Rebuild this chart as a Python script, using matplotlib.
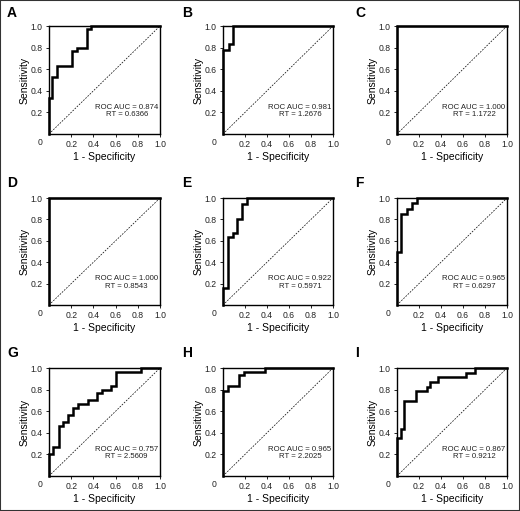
import matplotlib
matplotlib.use("Agg")
import matplotlib.pyplot as plt
from matplotlib.patches import Rectangle

plt.rcParams['font.family'] = ['Liberation Sans', 'DejaVu Sans']

panels = ["A", "B", "C", "D", "E", "F", "G", "H", "I"]

fpr_A = [0, 0, 0.03, 0.03, 0.075, 0.075, 0.21, 0.21, 0.25, 0.25, 0.345, 0.345, 0.38, 0.38, 1.0]
tpr_A = [0, 0.33, 0.33, 0.53, 0.53, 0.63, 0.63, 0.77, 0.77, 0.80, 0.80, 0.97, 0.97, 1.0, 1.0]

fpr_B = [0, 0, 0.05, 0.05, 0.095, 0.095, 1.0]
tpr_B = [0, 0.78, 0.78, 0.83, 0.83, 1.0, 1.0]

fpr_C = [0, 0, 1.0]
tpr_C = [0, 1.0, 1.0]

fpr_D = [0, 0, 1.0]
tpr_D = [0, 1.0, 1.0]

fpr_E = [0, 0, 0.045, 0.045, 0.087, 0.087, 0.13, 0.13, 0.17, 0.17, 0.217, 0.217, 1.0]
tpr_E = [0, 0.16, 0.16, 0.64, 0.64, 0.67, 0.67, 0.80, 0.80, 0.94, 0.94, 1.0, 1.0]

fpr_F = [0, 0, 0.04, 0.04, 0.09, 0.09, 0.135, 0.135, 0.18, 0.18, 1.0]
tpr_F = [0, 0.50, 0.50, 0.85, 0.85, 0.90, 0.90, 0.95, 0.95, 1.0, 1.0]

fpr_G = [0, 0, 0.04, 0.04, 0.09, 0.09, 0.13, 0.13, 0.174, 0.174, 0.213, 0.213, 0.258, 0.258,
         0.348, 0.348, 0.435, 0.435, 0.48, 0.48, 0.56, 0.56, 0.60, 0.60, 0.826, 0.826, 1.0]
tpr_G = [0, 0.20, 0.20, 0.27, 0.27, 0.467, 0.467, 0.50, 0.50, 0.567, 0.567, 0.633, 0.633, 0.667,
         0.667, 0.70, 0.70, 0.767, 0.767, 0.80, 0.80, 0.833, 0.833, 0.967, 0.967, 1.0, 1.0]

fpr_H = [0, 0, 0.048, 0.048, 0.144, 0.144, 0.19, 0.19, 0.384, 0.384, 1.0]
tpr_H = [0, 0.79, 0.79, 0.83, 0.83, 0.935, 0.935, 0.967, 0.967, 1.0, 1.0]

fpr_I = [0, 0, 0.04, 0.04, 0.066, 0.066, 0.174, 0.174, 0.27, 0.27, 0.30, 0.30, 0.37, 0.37,
         0.63, 0.63, 0.706, 0.706, 1.0]
tpr_I = [0, 0.35, 0.35, 0.435, 0.435, 0.696, 0.696, 0.783, 0.783, 0.826, 0.826, 0.87, 0.87,
         0.913, 0.913, 0.957, 0.957, 1.0, 1.0]

fprs = [fpr_A, fpr_B, fpr_C, fpr_D, fpr_E, fpr_F, fpr_G, fpr_H, fpr_I]
tprs = [tpr_A, tpr_B, tpr_C, tpr_D, tpr_E, tpr_F, tpr_G, tpr_H, tpr_I]

auc_values = ["0.874", "0.981", "1.000", "1.000", "0.922", "0.965", "0.757", "0.965", "0.867"]
rt_values = ["0.6366", "1.2676", "1.1722", "0.8543", "0.5971", "0.6297", "2.5609", "2.2025", "0.9212"]

tick_vals = [0.2, 0.4, 0.6, 0.8, 1.0]
tick_labels = ["0.2", "0.4", "0.6", "0.8", "1.0"]

W, H = 520, 511
fig = plt.figure(figsize=(W / 100, H / 100), dpi=100)

col_left = [49, 223, 397]
col_w = [111, 110, 110]
row_top = [26, 198, 368]
row_h = [108, 107, 108]
label_x = [7, 182, 355]
label_y = [13, 183, 353]

for i, name in enumerate(panels):
    r, c = divmod(i, 3)
    left = col_left[c] / W
    bottom = 1 - (row_top[r] + row_h[r]) / H
    ax = fig.add_axes([left, bottom, col_w[c] / W, row_h[r] / H])
    ax.plot([0, 1], [0, 1], color="black", lw=0.5, ls=(0, (2.5, 1.8)))
    ax.plot(fprs[i], tprs[i], color="black", lw=1.8, solid_joinstyle="miter",
            clip_on=False, zorder=3)
    ax.set_xlim(0, 1)
    ax.set_ylim(0, 1)
    ax.set_xticks(tick_vals)
    ax.set_xticklabels(tick_labels)
    ax.set_yticks(tick_vals)
    ax.set_yticklabels(tick_labels)
    ax.tick_params(direction="out", length=2.5, width=0.6, labelsize=6.2, pad=2,
                   labelcolor="#222222")
    for s in ax.spines.values():
        s.set_linewidth(1.0)
    ax.text(-0.08, -0.035, "0", transform=ax.transAxes, ha="center", va="top",
            fontsize=6.2, color="#222222")
    ax.set_xlabel("1 - Specificity", fontsize=7.5, labelpad=2)
    ax.set_ylabel("Sensitivity", fontsize=7.5, labelpad=0.5)
    ax.text(0.70, 0.213, "ROC AUC = %s\nRT = %s" % (auc_values[i], rt_values[i]),
            transform=ax.transAxes, ha="center", va="center", fontsize=5.6,
            multialignment="center", linespacing=1.15, color="#222222")
    fig.text(label_x[c] / W, 1 - label_y[r] / H, name, fontsize=10, fontweight="bold",
             ha="left", va="center")

fig.patches.append(Rectangle((0, 0), 1, 1, transform=fig.transFigure, fill=False,
                             edgecolor="#333333", lw=1.5))

fig.savefig("out.png", dpi=100)
